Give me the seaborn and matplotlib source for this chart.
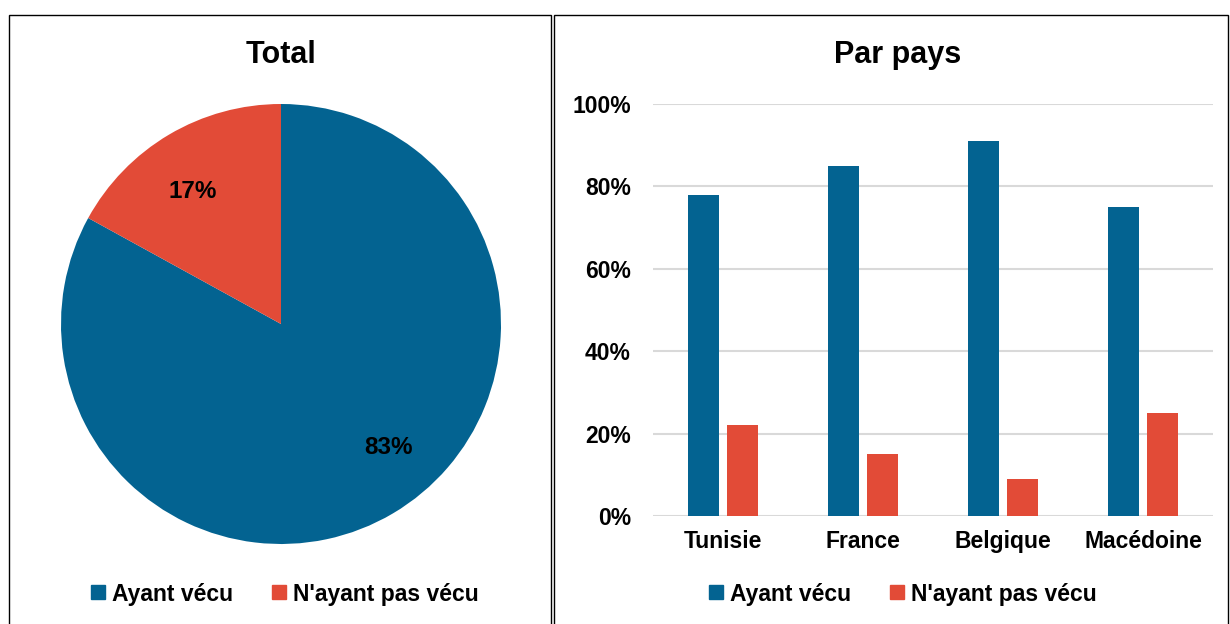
import matplotlib
matplotlib.use("Agg")
import matplotlib.pyplot as plt
from matplotlib.patches import Rectangle
from matplotlib.lines import Line2D
from matplotlib.ticker import FuncFormatter
import seaborn as sns
import pandas as pd

# data
groupes = ["Ayant vécu", "N'ayant pas vécu"]
total = [83, 17]
pays = ["Tunisie", "France", "Belgique", "Macédoine"]
ayant_vecu = [78, 85, 91, 75]
nayant_pas_vecu = [22, 15, 9, 25]
yticks = [0, 20, 40, 60, 80, 100]

BLUE = "#036391"
RED = "#E24B37"

sns.set_style("white")
plt.rcParams["font.family"] = ["Liberation Sans", "DejaVu Sans"]
plt.rcParams["font.weight"] = "bold"
plt.rcParams["text.color"] = "black"
plt.rcParams["xtick.color"] = "black"
plt.rcParams["ytick.color"] = "black"

fig = plt.figure(figsize=(12.3, 6.24), dpi=100)
W, H = 1230, 624

def fx(px):
    return px / W

def fy(py):
    return 1 - py / H

# panel frames
for x0, x1 in [(9, 551), (554, 1228)]:
    fig.add_artist(Rectangle((fx(x0), -0.01), fx(x1 - x0), fy(15) + 0.01,
                             transform=fig.transFigure, fill=False,
                             edgecolor="black", linewidth=1))

# --- pie ---
ax_pie = fig.add_axes([fx(61), fy(544), fx(440), 440 / H])
wedges, _, autotexts = ax_pie.pie(total, colors=[BLUE, RED], startangle=90,
                                  counterclock=False, autopct="%d%%",
                                  pctdistance=0.73,
                                  wedgeprops=dict(linewidth=0))
for t in autotexts:
    t.set_fontsize(17.5)
    t.set_fontweight("bold")
    t.set_color("black")
# Excel style label placement tweak
autotexts[0].set_position((0.49, -0.56))
autotexts[1].set_position((-0.40, 0.60))
ax_pie.set_xlim(-1, 1)
ax_pie.set_ylim(-1, 1)
ax_pie.set_aspect("equal")
ax_pie.axis("off")

fig.text(fx(281), fy(55), "Total", ha="center", va="center",
         fontsize=22, fontweight="bold")

# --- bars ---
df = pd.DataFrame({
    "pays": pays * 2,
    "valeur": ayant_vecu + nayant_pas_vecu,
    "groupe": [groupes[0]] * len(pays) + [groupes[1]] * len(pays),
})

ax = fig.add_axes([fx(653), fy(516), fx(560), 412 / H])
sns.barplot(data=df, x="pays", y="valeur", hue="groupe", hue_order=groupes,
            palette=[BLUE, RED], saturation=1, width=0.55, gap=0.2,
            linewidth=0, legend=False, ax=ax)
ax.set_ylim(0, 100)
ax.set_xlim(-0.5, len(pays) - 0.5)
ax.set_yticks(yticks)
ax.yaxis.set_major_formatter(FuncFormatter(lambda v, p: f"{v:.0f}%"))
ax.grid(axis="y", color="#D9D9D9", linewidth=1.5)
ax.set_axisbelow(True)
for s in ax.spines.values():
    s.set_visible(False)
ax.tick_params(axis="y", length=0, pad=16, labelsize=16.5, labelcolor="black")
ax.tick_params(axis="x", length=0, pad=10, labelsize=16.5, labelcolor="black")
for lab in ax.get_xticklabels() + ax.get_yticklabels():
    lab.set_fontweight("bold")
ax.set_xlabel("")
ax.set_ylabel("")

fig.text(fx(898), fy(55), "Par pays", ha="center", va="center",
         fontsize=22, fontweight="bold")

# legends
handles = [Line2D([], [], marker="s", linestyle="", color=c, markersize=10)
           for c in [BLUE, RED]]
for cx in [284, 902]:
    fig.legend(handles, groupes, loc="center", bbox_to_anchor=(fx(cx), fy(594)),
               ncol=2, frameon=False, handletextpad=0.2,
               columnspacing=1.6, handlelength=0.8,
               labelcolor="black",
               prop={"weight": "bold", "size": 16.5})

fig.savefig("out.png", dpi=100, facecolor="white")
